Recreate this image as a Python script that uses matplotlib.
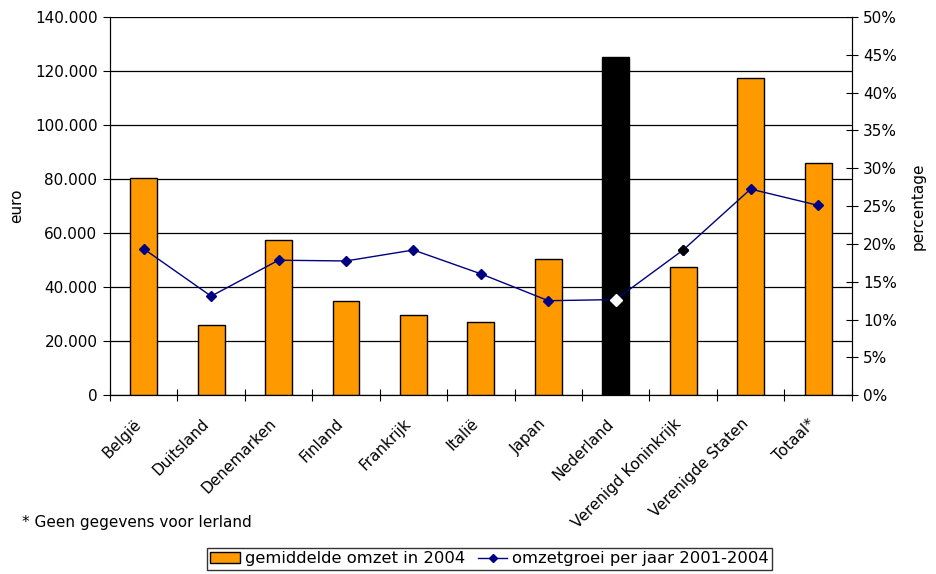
import matplotlib
matplotlib.use("Agg")
from matplotlib import pyplot as plt
from matplotlib import transforms
from matplotlib.ticker import FuncFormatter, MultipleLocator
from matplotlib.lines import Line2D
from matplotlib.patches import Patch


# Data.
countries = ["België", "Duitsland", "Denemarken", "Finland", "Frankrijk", "Italië", "Japan",
             "Nederland", "Verenigd Koninkrijk", "Verenigde Staten", "Totaal*"]
omzet = [80400, 26000, 57400, 35000, 29800, 27300, 50500, 125300, 47500, 117500, 86000]
groei = [19.35, 13.1, 17.85, 17.75, 19.2, 16.05, 12.5, 12.65, 19.2, 27.25, 25.1]

ORANGE = "#FF9900"
NAVY = "#000080"

plt.rcParams["font.family"] = ["DejaVu Sans"]
plt.rcParams["font.size"] = 11

fig = plt.figure(figsize=(9.36, 5.74), dpi=100)
ax = fig.add_axes([0.1175, 0.3113, 0.7925, 0.6593])
x = list(range(len(countries)))

# Bars, Nederland highlighted in black.
bar_colors = ["black" if c == "Nederland" else ORANGE for c in countries]
ax.bar(x, omzet, width=0.4, color=bar_colors, edgecolor="black", linewidth=1, zorder=3)
ax.set_xlim(-0.5, len(countries) - 0.5)
ax.set_ylim(0, 140000)
ax.yaxis.set_major_locator(MultipleLocator(20000))
ax.yaxis.set_major_formatter(FuncFormatter(lambda v, p: f"{int(v):,}".replace(",", ".")))
ax.grid(axis="y", color="black", linewidth=0.9, zorder=0)
ax.set_axisbelow(True)
ax.set_ylabel("euro", labelpad=8)

# Category ticks sit between the bars, labels at the bar centres.
ax.set_xticks([i + 0.5 for i in x[:-1]] + [-0.5, len(countries) - 0.5])
ax.tick_params(axis="x", which="major", direction="inout", length=8, labelbottom=False)
ax.set_xticks(x, minor=True)
ax.set_xticklabels(countries, minor=True, rotation=45, ha="right", rotation_mode="anchor")
ax.tick_params(axis="x", which="minor", length=0, pad=15)
# Shift the rotated labels a little to the left, like the original.
offset = transforms.ScaledTranslation(-10 / 100, 0, fig.dpi_scale_trans)
for lbl in ax.get_xticklabels(minor=True):
    lbl.set_transform(lbl.get_transform() + offset)
ax.tick_params(axis="y", direction="out", length=5, pad=4)
ax.spines["top"].set_visible(False)

# Growth line on the right axis.
ax2 = ax.twinx()
ax2.plot(x, groei, color=NAVY, linewidth=1.0, marker="D", markersize=5, zorder=4)
# Individual marker colours.
for i, c in enumerate(countries):
    if c == "Nederland":
        ax2.plot(i, groei[i], marker="D", markersize=6.5, color="white", markeredgecolor="white", zorder=5)
    elif c == "Verenigd Koninkrijk":
        ax2.plot(i, groei[i], marker="D", markersize=5, color="black", zorder=5)
ax2.set_ylim(0, 50)
ax2.yaxis.set_major_locator(MultipleLocator(5))
ax2.yaxis.set_major_formatter(FuncFormatter(lambda v, p: f"{int(v)}%"))
ax2.tick_params(axis="y", direction="inout", length=8, pad=4)
ax2.set_ylabel("percentage", labelpad=10)
ax2.spines["top"].set_visible(False)

fig.text(0.023, 0.09, "* Geen gegevens voor Ierland", fontsize=11, va="center")

handles = [Patch(facecolor=ORANGE, edgecolor="black", linewidth=1),
           Line2D([0], [0], color=NAVY, marker="D", markersize=4, linewidth=1.0)]
leg = fig.legend(handles, ["gemiddelde omzet in 2004", "omzetgroei per jaar 2001-2004"],
                 loc="center", bbox_to_anchor=(0.523, 0.0265), ncol=2, frameon=True,
                 fancybox=False, edgecolor="black", handlelength=1.8, handletextpad=0.3,
                 columnspacing=0.8, borderpad=0.2, fontsize=11.8)
leg.get_frame().set_linewidth(1)

fig.savefig("out.png", dpi=100)
